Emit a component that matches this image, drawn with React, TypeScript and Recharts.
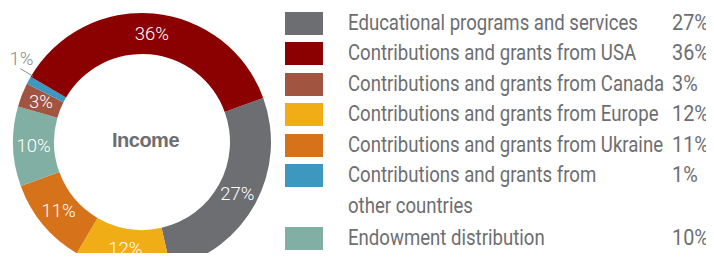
import React from 'react';
import { PieChart, Pie, Cell, Legend } from 'recharts';

const categories = [
  'Educational programs and services',
  'Contributions and grants from USA',
  'Contributions and grants from Canada',
  'Contributions and grants from Europe',
  'Contributions and grants from Ukraine',
  'Contributions and grants from\nother countries',
  'Endowment distribution',
];
const shares = [27, 36, 3, 12, 11, 1, 10];
const colors = ['#6d6e71', '#8b0000', '#a1543f', '#f0ad15', '#d5721a', '#3d97bf', '#81afa4'];
// clockwise order of the slices round the ring, starting with the gray one
const ringOrder = [0, 3, 4, 6, 2, 5, 1];

const pieData = ringOrder.map((i) => ({ name: categories[i], value: shares[i], color: colors[i] }));

const RAD = Math.PI / 180;
const FONT = "Roboto, 'Liberation Sans', sans-serif";

const renderLabel = ({ cx, cy, midAngle, innerRadius, outerRadius, value }: any) => {
  if (value < 2) {
    // small slice: label outside with a short leader
    const a = -(midAngle - 2.5) * RAD;
    const r1 = outerRadius - 2;
    const r2 = outerRadius + 13;
    const x2 = cx + r2 * Math.cos(a);
    const y2 = cy + r2 * Math.sin(a);
    return (
      <g>
        <line
          x1={cx + r1 * Math.cos(a)}
          y1={cy + r1 * Math.sin(a)}
          x2={x2}
          y2={y2}
          stroke="#8a8a8a"
          strokeWidth={1}
        />
        <text
          x={x2 + 1}
          y={y2 - 10}
          fill="#8a8a8a"
          textAnchor="middle"
          dominantBaseline="central"
          fontSize={18.5}
          fontWeight={300}
          fontFamily={FONT}
        >
          {value}%
        </text>
      </g>
    );
  }
  const r = (innerRadius + outerRadius) / 2;
  const a = -midAngle * RAD;
  return (
    <text
      x={cx + r * Math.cos(a)}
      y={cy + r * Math.sin(a)}
      fill="#ffffff"
      textAnchor="middle"
      dominantBaseline="central"
      fontSize={18.5}
      fontWeight={300}
      fontFamily={FONT}
    >
      {value}%
    </text>
  );
};

const LegendList = () => (
  <div style={{ fontFamily: FONT, fontSize: 22, lineHeight: '30.5px', color: '#6d6e71' }}>
    {categories.map((c, i) => (
      <div key={i} style={{ display: 'flex', alignItems: 'flex-start', marginTop: i === 6 ? 2 : 0 }}>
        <span style={{ width: 38, height: 23, marginTop: 4, background: colors[i], flexShrink: 0 }} />
        <span
          style={{
            marginLeft: 25,
            width: 324,
            whiteSpace: 'pre',
            flexShrink: 0,
            display: 'inline-block',
            transform: 'scaleX(0.845)',
            transformOrigin: 'left center',
          }}
        >
          {c}
        </span>
        <span
          style={{ whiteSpace: 'pre', display: 'inline-block', transform: 'scaleX(0.9)', transformOrigin: 'left center' }}
        >
          {shares[i]}%
        </span>
      </div>
    ))}
  </div>
);

export default function App() {
  return (
    <div style={{ margin: -8, width: 714, height: 261, position: 'relative', background: '#fff', overflow: 'hidden' }}>
      <PieChart width={714} height={261} margin={{ top: 0, right: 0, bottom: 0, left: 0 }}>
        <Pie
          data={pieData}
          dataKey="value"
          cx={142}
          cy={142}
          innerRadius={88}
          outerRadius={129}
          startAngle={20}
          endAngle={-340}
          stroke="none"
          label={renderLabel}
          labelLine={false}
          isAnimationActive={false}
        >
          {pieData.map((d, i) => (
            <Cell key={`cell-${i}`} fill={d.color} />
          ))}
        </Pie>
        <Legend
          content={<LegendList />}
          layout="vertical"
          align="right"
          verticalAlign="top"
          wrapperStyle={{ position: 'absolute', left: 285, top: 7.5, width: 429 }}
        />
      </PieChart>
      <div
        style={{
          position: 'absolute',
          left: 145.5,
          top: 140,
          transform: 'translate(-50%, -50%)',
          fontFamily: "'Liberation Sans', Arial, sans-serif",
          fontWeight: 'bold',
          fontSize: 20,
          letterSpacing: -0.5,
          color: '#6d6e71',
          whiteSpace: 'nowrap',
        }}
      >
        Income
      </div>
    </div>
  );
}
